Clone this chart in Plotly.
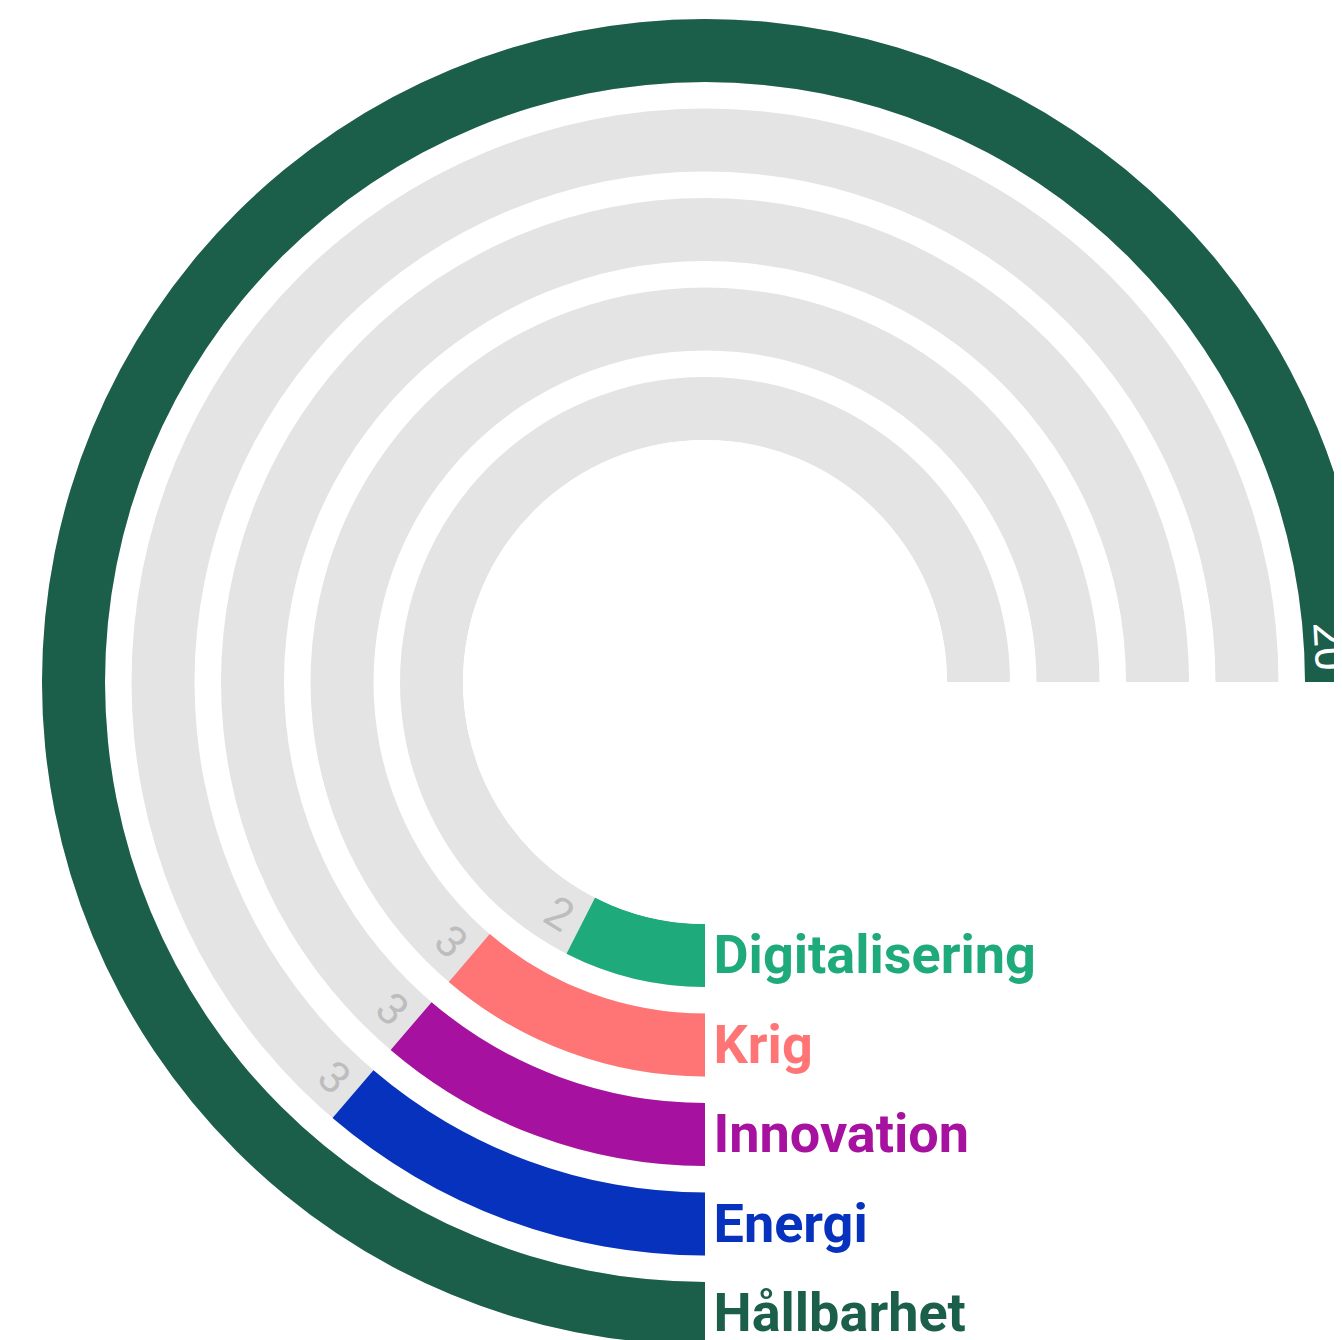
import math
import plotly.graph_objects as go

# ---------------- data ----------------
categories = ["Digitalisering", "Krig", "Innovation", "Energi", "Hållbarhet"]
values = [2, 3, 3, 3, 20]
colors = ["#1EAA7A", "#FF7575", "#A6119F", "#0632BE", "#1B5E4A"]
max_value = 20

# ---------------- layout constants ----------------
W, H = 1394, 1348            # figure overflows the window; window clips it
R_PX = min(W, H) / 2         # polar radius in px
HOLE = 242 / R_PX
RING = 0.704                 # ring thickness in radial units (1 unit = ring pitch)
R_RANGE = [0, (R_PX - 242) / 89.5]
SPAN = 270                   # degrees used by max_value
TRACK = "#E4E4E4"
LABEL_GREY = "#BDBDBD"
FS_CAT = 54
FS_VAL = 44

n = len(categories)
idx = list(range(n))

fig = go.Figure()

# grey tracks
fig.add_trace(go.Barpolar(
    r=[RING] * n, base=idx,
    theta=[SPAN / 2] * n, width=[SPAN] * n,
    marker=dict(color=TRACK, line=dict(width=0)),
    hoverinfo="skip", showlegend=False,
))

# value bars
spans = [v / max_value * SPAN for v in values]
fig.add_trace(go.Barpolar(
    r=[RING] * n, base=idx,
    theta=[s / 2 for s in spans], width=spans,
    marker=dict(color=colors, line=dict(width=0)),
    customdata=values, text=categories,
    hovertemplate="%{text}: %{customdata}<extra></extra>",
    showlegend=False,
))

# category labels at the bar starts
fig.add_trace(go.Scatterpolar(
    r=[i + RING / 2 + 0.05 for i in idx], theta=[0] * n,
    mode="markers+text", text=categories,
    textposition="middle right",
    marker=dict(size=12, color="rgba(0,0,0,0)"),
    textfont=dict(family="Roboto", size=FS_CAT, color=colors, weight="bold"),
    cliponaxis=False, hoverinfo="skip", showlegend=False,
))

# value labels (rotated) placed next to the bar ends
def unit_to_px(u):
    return HOLE * R_PX + (u - R_RANGE[0]) / (R_RANGE[1] - R_RANGE[0]) * (1 - HOLE) * R_PX

annotations = []
cx, cy = W / 2, H / 2
for i, v in enumerate(values):
    span = v / max_value * SPAN
    rp = unit_to_px(i + RING / 2)
    txt = str(v)
    if v / max_value > 0.5:
        rp -= 6
        off = (0.26 * FS_VAL * len(txt) + 13) / rp * 180 / math.pi
        ang = span - off
        col = "white"
    else:
        off = (0.26 * FS_VAL * len(txt) + 13) / rp * 180 / math.pi
        ang = span + off
        col = LABEL_GREY
    phi = 90 + ang
    x = (cx + rp * math.cos(math.radians(phi))) / W
    y = 1 - (cy + rp * math.sin(math.radians(phi))) / H
    t = phi + 90
    t = ((t + 90) % 180) - 90
    if t == -90:
        t = 90
    annotations.append(dict(
        x=x, y=y, xref="paper", yref="paper", text=txt, showarrow=False,
        textangle=t, xanchor="center", yanchor="middle",
        font=dict(family="Roboto", size=FS_VAL, color=col),
    ))

fig.update_layout(
    width=W, height=H,
    margin=dict(l=0, r=0, t=0, b=0),
    paper_bgcolor="white",
    showlegend=False,
    annotations=annotations,
    polar=dict(
        domain=dict(x=[0, 1], y=[0, 1]),
        bgcolor="white",
        hole=HOLE,
        radialaxis=dict(visible=False, range=R_RANGE, showgrid=False),
        angularaxis=dict(visible=False, direction="clockwise", rotation=-90,
                         showgrid=False),
    ),
)

fig.write_html("out.html")
